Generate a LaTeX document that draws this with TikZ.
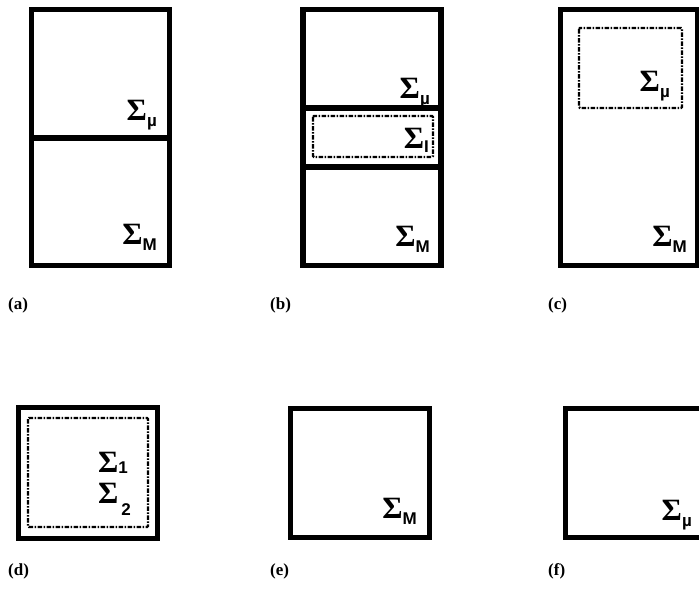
\documentclass[tikz,border=0pt]{standalone}
\usepackage{fontspec}
\newfontfamily\sigfont{Liberation Serif}
\newfontfamily\subfont{Liberation Sans}
\newfontfamily\capfont{Liberation Serif}
\newcommand{\sg}[2][6pt]{{\fontsize{31}{31}\selectfont\sigfont\bfseries Σ}\raisebox{-#1}{\fontsize{17}{17}\selectfont\subfont\bfseries #2}}

\begin{document}
\begin{tikzpicture}[x=1pt,y=-1pt,
  wall/.style={line width=5.5pt},
  part/.style={line width=2.2pt,dash pattern=on 4.5pt off 1.5pt on 1.5pt off 1.5pt,rounded corners=1pt},
  sig/.style={anchor=base east,inner sep=0pt},
  tag/.style={anchor=base west,inner sep=0pt,font=\fontsize{17}{19}\selectfont\capfont\bfseries}]
\path[use as bounding box] (0,0) rectangle (699,590);
% (a)
\draw[wall] (31.5,9.5) rectangle (169.5,265.5);
\draw[wall] (31.5,138) -- (169.5,138);
\node[sig] (amu) at (157,120) {\sg{µ}};
\node[sig] (aM) at (157,244) {\sg{M}};
\node[tag] (lbla) at (8,309) {(a)};
% (b)
\draw[wall] (303,9.5) rectangle (441,265.5);
\draw[wall] (303,108) -- (441,108);
\draw[wall] (303,167) -- (441,167);
\draw[part] (313,116) rectangle (433,157);
\node[sig] (bmu) at (430,98) {\sg{µ}};
\node[sig] (bI) at (429,148) {\sg[4pt]{I}};
\node[sig] (bM) at (430,246) {\sg{M}};
\node[tag] (lblb) at (270,309) {(b)};
% (c)
\draw[wall] (560.5,9.5) rectangle (698,265.5);
\draw[part] (579,28) rectangle (682,108);
\node[sig] (cmu) at (670,91) {\sg{µ}};
\node[sig] (cM) at (687,246) {\sg{M}};
\node[tag] (lblc) at (548,309) {(c)};
% (d)
\draw[wall] (18.5,407.5) rectangle (157.5,538.5);
\draw[part] (28,418) rectangle (148,527);
\node[sig,anchor=base west] (d1) at (98,472) {\sg[1pt]{1}};
\node[sig,anchor=base west] (d2) at (98,503) {\sg[12pt]{\,2}};
\node[tag] (lbld) at (8,575) {(d)};
% (e)
\draw[wall] (290.5,408.5) rectangle (429.5,537.5);
\node[sig] (eM) at (417,518) {\sg{M}};
\node[tag] (lble) at (270,575) {(e)};
% (f)
\draw[wall] (565.5,408.5) rectangle (710,537.5);
\node[sig] (fmu) at (692,520) {\sg{µ}};
\node[tag] (lblf) at (548,575) {(f)};
\end{tikzpicture}
\end{document}
